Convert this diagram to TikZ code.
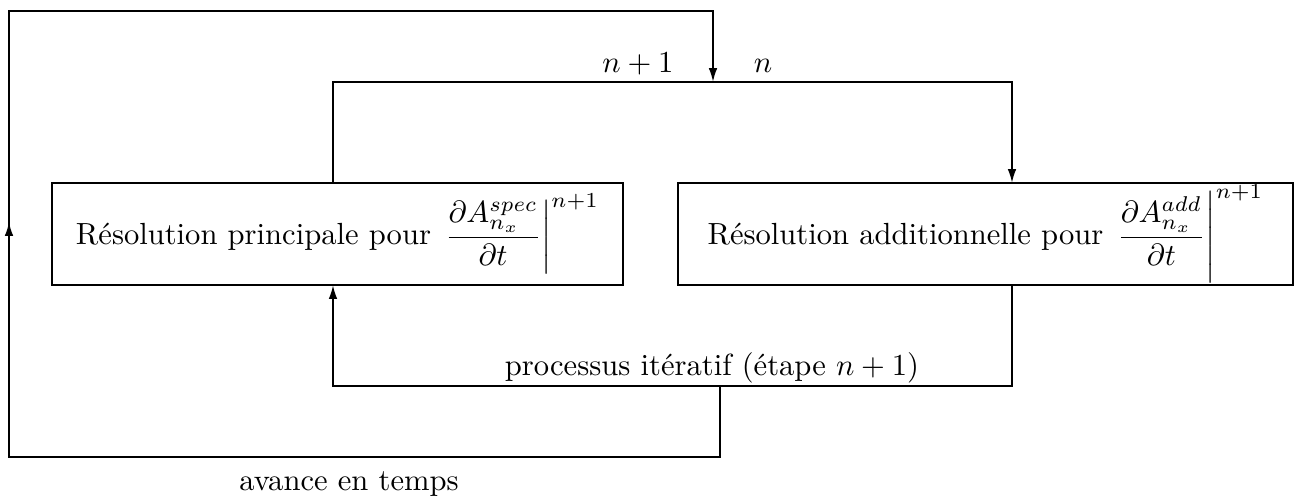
\documentclass[tikz,border=0pt]{standalone}
\usepackage{fontspec}
\usepackage{amsmath}
\usetikzlibrary{arrows.meta}
\begin{document}
\begin{tikzpicture}[x=0.327pt,y=-0.327pt,
  line width=0.6pt,
  box/.style={draw,rectangle,inner sep=0pt,outer sep=0pt,minimum height=33.4pt},
  lbl/.style={inner sep=0pt,anchor=base},
  arr/.style={-{Latex[length=4.5pt,width=2.8pt]}}]
\useasboundingbox (0,0) rectangle (1295,497);
\node[box,minimum width=186.7pt] (b1) at (337.5,234)
  {Résolution principale pour $\displaystyle\left.\frac{\partial A^{spec}_{n_x}}{\partial t}\right|^{n+1}$};
\node[box,minimum width=201.1pt] (b2) at (985.5,234)
  {Résolution additionnelle pour $\displaystyle\left.\frac{\partial A^{add}_{n_x}}{\partial t}\right|^{n+1}$};
\coordinate (a) at (333,82);
\coordinate (b) at (1012,82);
\coordinate (c) at (1012,386);
\coordinate (d) at (333,386);
\coordinate (e) at (720,386);
\coordinate (f) at (720,457);
\coordinate (g) at (9,457);
\coordinate (k) at (9,222);
\coordinate (h) at (9,11);
\coordinate (i) at (713,11);
\coordinate (j) at (713,82);
\draw[arr] (a |- b1.north) -- (a) -- (b) -- (b |- b2.north);
\draw[arr] (c |- b2.south) -- (c) -- (d) -- (d |- b1.south);
\draw[arr] (e) -- (f) -- (g) -- (h) -- (i) -- (j);
\draw[arr] (g) -- (k);
\node[lbl] (l1) at (638,72) {$n+1$};
\node[lbl] (l2) at (763,72) {$n$};
\node[lbl] (l3) at (712,375) {processus itératif (étape $n+1$)};
\node[lbl] (l4) at (349,490) {avance en temps};
\end{tikzpicture}
\end{document}
